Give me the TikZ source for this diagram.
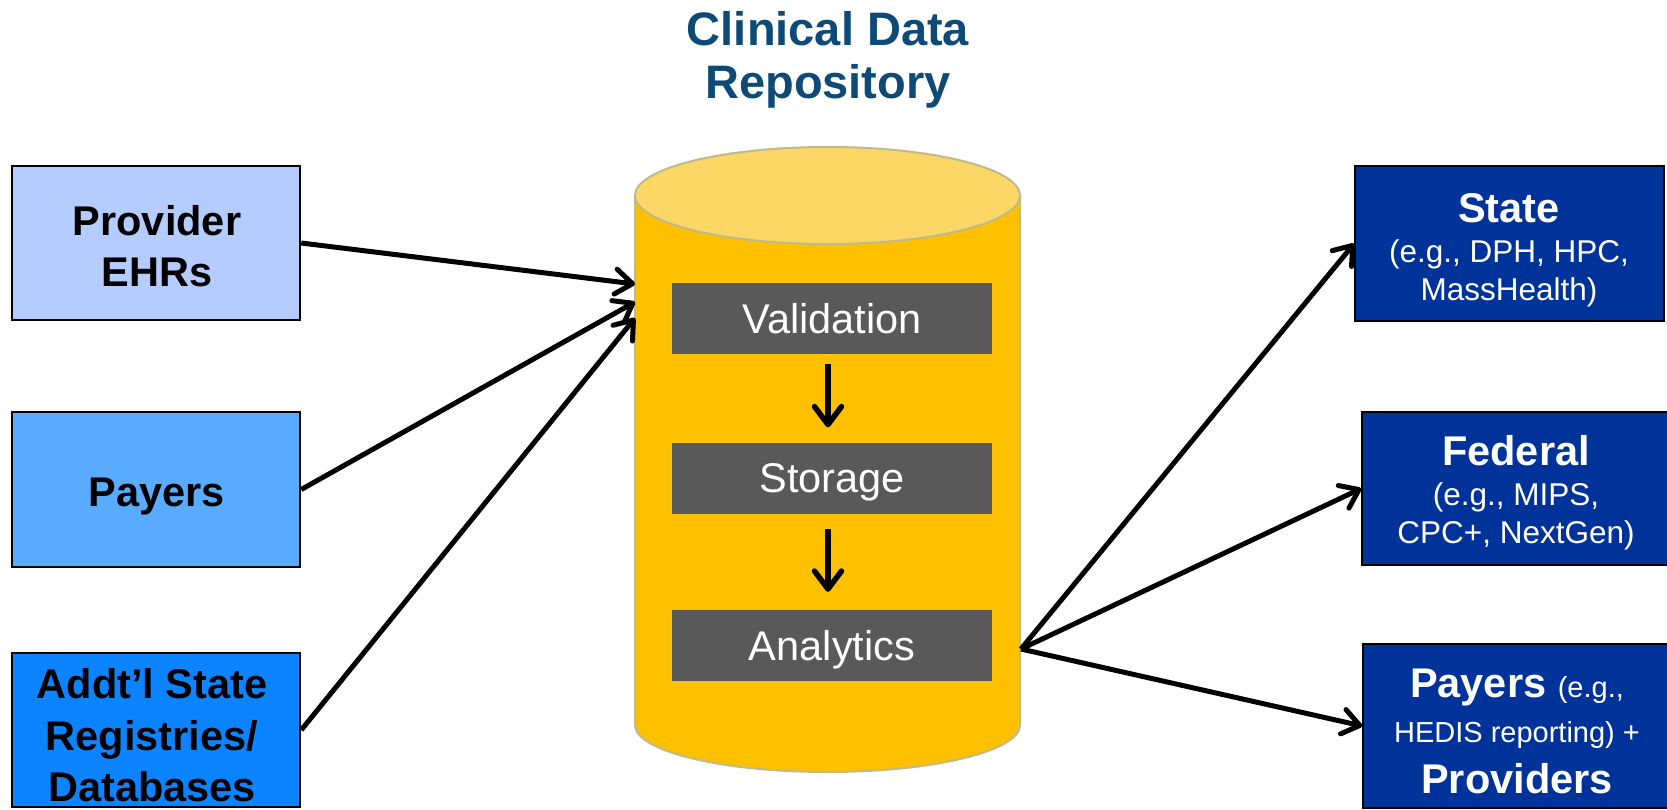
\documentclass[tikz,border=0pt]{standalone}
\usepackage{fontspec}
\setmainfont{Liberation Sans}
\usetikzlibrary{arrows.meta}
\definecolor{titleblue}{HTML}{0E4A78}
\definecolor{ehrfill}{HTML}{B4CCFF}
\definecolor{payfill}{HTML}{59ABFF}
\definecolor{regfill}{HTML}{0C84FF}
\definecolor{outfill}{HTML}{003399}
\definecolor{cylbody}{HTML}{FFC000}
\definecolor{cyltop}{HTML}{FDD766}
\definecolor{cylline}{HTML}{BDBA8C}
\definecolor{stagegray}{HTML}{595959}
\tikzset{
  inbox/.style={draw=black, line width=2.5pt, rectangle, inner sep=0pt},
  outbox/.style={draw=black, line width=1.5pt, rectangle, fill=outfill, inner sep=0pt},
  stagebox/.style={fill=stagegray, minimum width=320pt, minimum height=71pt, inner sep=0pt,
    text=white, font=\fontsize{41.5}{48}\selectfont, text height=29.7pt, text depth=0pt},
  bigtxt/.style={anchor=base, inner sep=0pt, font=\fontsize{41.5}{48}\selectfont\bfseries},
  subtxt/.style={anchor=base, inner sep=0pt, text=white, font=\fontsize{31.5}{36}\selectfont},
  smalltxt/.style={anchor=base, inner sep=0pt, text=white, font=\fontsize{29}{34}\selectfont},
  titletxt/.style={anchor=base, inner sep=0pt, text=titleblue, font=\fontsize{47}{56}\selectfont\bfseries},
  flow/.style={line width=5pt, -{Straight Barb[length=17pt,width=25pt,line cap=round,line join=round]}},
  stageflow/.style={line width=5.5pt, -{Straight Barb[length=18pt,width=27pt,line cap=round,line join=round]}},
}
\begin{document}
\begin{tikzpicture}[x=1pt,y=-1pt]
\useasboundingbox (0,0) rectangle (1667,809);
\fill[white] (0,0) rectangle (1667,809);
\clip (0,0) rectangle (1667,809);

% title
\node[titletxt] (title1) at (828,45) {Clinical Data};
\node[titletxt] (title2) at (828,98) {Repository};

% input boxes
\node[inbox, fill=ehrfill, minimum width=288pt, minimum height=154pt] (ehr) at (156,243) {};
\node[bigtxt] (ehrt1) at (157,235) {Provider};
\node[bigtxt] (ehrt2) at (157,286) {EHRs};

\node[inbox, fill=payfill, minimum width=288pt, minimum height=155pt] (pay) at (156,489.5) {};
\node[bigtxt] (payt) at (157,506) {Payers};

\node[inbox, fill=regfill, minimum width=288pt, minimum height=154pt] (reg) at (156,730) {};
\node[bigtxt] (regt1) at (152,698) {Addt’l State};
\node[bigtxt] (regt2) at (152,750) {Registries/};
\node[bigtxt] (regt3) at (152,801) {Databases};

% cylinder
\draw[cylline, line width=2pt, fill=cylbody]
  (635,195.5) -- (635,725) arc[start angle=180, end angle=0, x radius=192.5, y radius=47]
  -- (1020,195.5) -- cycle;
\draw[cylline, line width=2pt, fill=cyltop] (827.5,195.5) ellipse [x radius=192.5, y radius=48.5];

\coordinate (inA) at (635,284);
\coordinate (inB) at (635,302);
\coordinate (inC) at (635,318);
\coordinate (outP) at (1021,649);

% stages
\node[stagebox] (val) at (832,318.5) {Validation};
\node[stagebox] (sto) at (832,478) {Storage};
\node[stagebox] (ana) at (832,645.5) {Analytics};

\draw[stageflow] ([shift={(-4,10)}]val.south) -- ([shift={(-4,-15)}]sto.north);
\draw[stageflow] ([shift={(-4,15)}]sto.south) -- ([shift={(-4,-18)}]ana.north);

% output boxes
\node[outbox, minimum width=309pt, minimum height=155pt] (state) at (1509.5,243.5) {};
\node[bigtxt, text=white] (statet1) at (1509,222) {State};
\node[subtxt] (statet2) at (1509,262) {(e.g., DPH, HPC,};
\node[subtxt] (statet3) at (1509,300) {MassHealth)};

\node[outbox, minimum width=308pt, minimum height=153pt] (fed) at (1516,488.5) {};
\node[bigtxt, text=white] (fedt1) at (1516,465) {Federal};
\node[subtxt] (fedt2) at (1516,505) {(e.g., MIPS,};
\node[subtxt] (fedt3) at (1516,543) {CPC+, NextGen)};

\node[outbox, minimum width=308pt, minimum height=164pt] (pp) at (1517,726) {};
\node[bigtxt, text=white] (ppt1) at (1517,697) {Payers {\fontsize{29}{34}\selectfont\mdseries (e.g.,}};
\node[smalltxt] (ppt2) at (1517,742) {HEDIS reporting) +};
\node[bigtxt, text=white] (ppt3) at (1517,793) {Providers};

% connectors
\draw[flow] (ehr.east) -- (inA);
\draw[flow] (pay.east) -- (inB);
\draw[flow] (reg.east) -- (inC);
\draw[flow] (outP) -- (state.west);
\draw[flow] (outP) -- (fed.west);
\draw[flow] (outP) -- (pp.west);
\end{tikzpicture}
\end{document}
